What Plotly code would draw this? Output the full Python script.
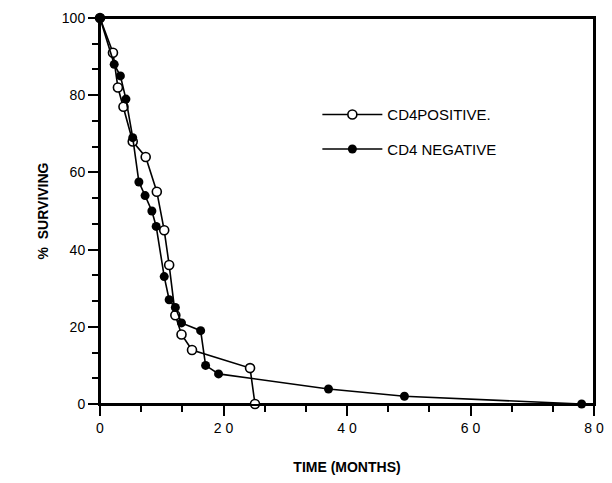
import plotly.graph_objects as go

pos_months = [0, 2.1, 2.9, 3.8, 5.3, 7.4, 9.2, 10.4, 11.2, 12.2, 13.2, 14.9, 24.3, 25.1]
pos_surv = [100, 91, 82, 77, 68, 64, 55, 45, 36, 23, 18, 14, 9.3, 0]

neg_months = [0, 2.3, 3.3, 4.2, 5.3, 6.3, 7.3, 8.4, 9.1, 10.4, 11.2, 12.2, 13.2, 16.3, 17.1, 19.2, 37, 49.3, 78]
neg_surv = [100, 88, 85, 79, 69, 57.5, 54, 50, 46, 33, 27, 25, 21, 19, 10, 7.8, 3.9, 2, 0]

x_label_alias = {20: "2 0", 40: "4 0", 60: "6 0", 80: "8 0"}

fig = go.Figure()
fig.add_trace(go.Scatter(
    x=pos_months, y=pos_surv, mode="lines+markers", name="CD4POSITIVE.",
    legendgroup="pos",
    line=dict(color="black", width=1.6),
    marker=dict(symbol="circle", size=9, color="white", line=dict(color="black", width=1.6)),
    cliponaxis=False,
))
fig.add_trace(go.Scatter(
    x=neg_months, y=neg_surv, mode="lines+markers", name="CD4 NEGATIVE",
    legendgroup="neg",
    line=dict(color="black", width=1.6),
    marker=dict(symbol="circle", size=9, color="black"),
    cliponaxis=False,
))

# plot frame (top/right borders)
fig.add_shape(type="rect", xref="paper", yref="paper", x0=0, x1=1, y0=0, y1=1,
              line=dict(color="black", width=2), layer="below")

fig.update_layout(
    width=596, height=467,
    margin=dict(l=92, r=10, t=10, b=71),
    paper_bgcolor="white", plot_bgcolor="white",
    font=dict(family="Liberation Sans, Arial, sans-serif", size=14, color="black"),
    showlegend=True,
    legend=dict(x=0.44, y=0.792, xanchor="left", yanchor="top",
                bgcolor="rgba(0,0,0,0)", font=dict(size=15),
                itemwidth=60, tracegroupgap=12),
    xaxis=dict(
        range=[0, 80], tickmode="linear", tick0=0, dtick=20, labelalias=x_label_alias,
        automargin=False, ticklabeloverflow="allow",
        showgrid=False, zeroline=False, showline=True, linecolor="black", linewidth=2,
        mirror=True, ticks="outside", ticklen=10, tickwidth=2, tickcolor="#000000",
        minor=dict(dtick=20/3, tick0=0, ticks="outside", ticklen=6, tickwidth=2, tickcolor="#000000"),
        title=dict(text="<b>TIME (MONTHS)</b>", font=dict(size=14), standoff=30),
    ),
    yaxis=dict(
        range=[0, 100], tickmode="linear", tick0=0, dtick=20,
        automargin=False, ticklabeloverflow="allow",
        showgrid=False, zeroline=False, showline=True, linecolor="black", linewidth=2,
        mirror=True, ticks="outside", ticklen=10, tickwidth=2, tickcolor="#000000",
        minor=dict(dtick=20/3, tick0=0, ticks="outside", ticklen=6, tickwidth=2, tickcolor="#000000"),
        title=dict(text="<b>%  SURVIVING</b>", font=dict(size=14), standoff=10),
    ),
)

fig.write_html("out.html")
